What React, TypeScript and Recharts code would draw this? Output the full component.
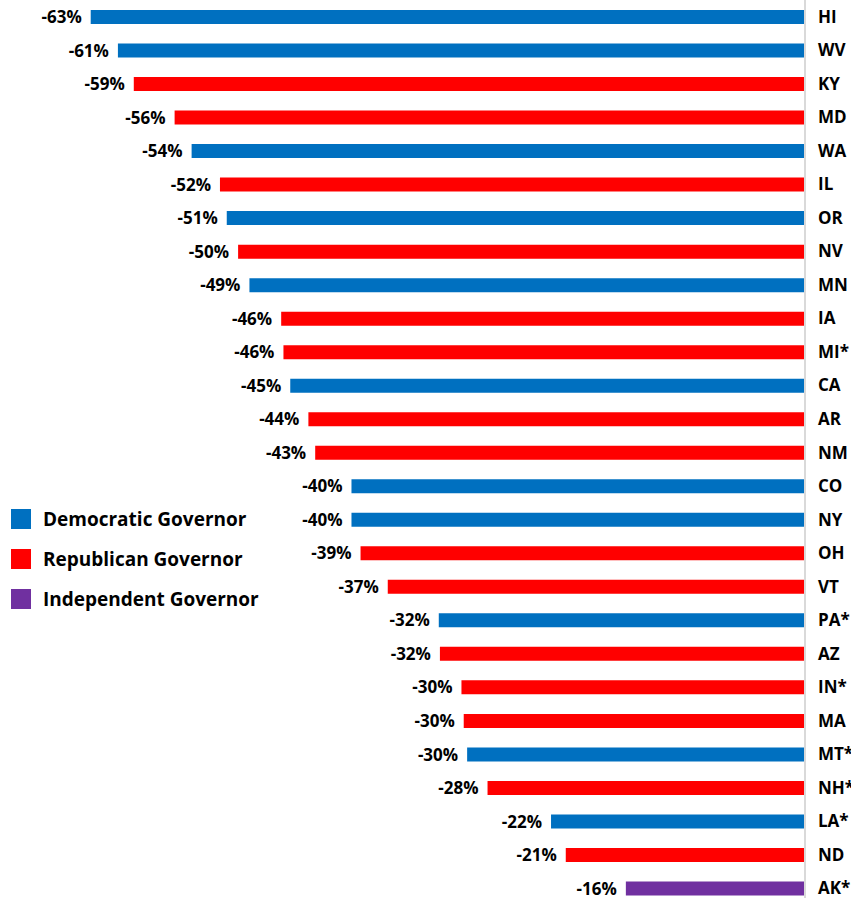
import { BarChart, Bar, XAxis, YAxis, Cell, LabelList, Legend } from 'recharts'

const states = ['HI', 'WV', 'KY', 'MD', 'WA', 'IL', 'OR', 'NV', 'MN', 'IA', 'MI*', 'CA', 'AR', 'NM', 'CO', 'NY', 'OH', 'VT', 'PA*', 'AZ', 'IN*', 'MA', 'MT*', 'NH*', 'LA*', 'ND', 'AK*']
const changes = [-63.0, -60.6, -59.2, -55.6, -54.1, -51.6, -51.0, -50.0, -49.0, -46.2, -46.0, -45.4, -43.8, -43.2, -40.0, -40.0, -39.2, -36.8, -32.3, -32.2, -30.3, -30.1, -29.8, -28.0, -22.4, -21.1, -15.8]
const parties = ['D', 'D', 'R', 'R', 'D', 'R', 'D', 'R', 'D', 'R', 'R', 'D', 'R', 'R', 'D', 'D', 'R', 'R', 'D', 'R', 'R', 'R', 'D', 'R', 'D', 'R', 'I']

const partyKeys = ['D', 'R', 'I']
const partyNames = ['Democratic Governor', 'Republican Governor', 'Independent Governor']
const partyColors: Record<string, string> = { D: '#0070C0', R: '#FF0000', I: '#7030A0' }

const data = states.map((s, i) => ({ state: s, change: changes[i], party: parties[i] }))

const FONT = '"Open Sans", Lato, sans-serif'

function ValueLabel(props: any) {
  const { x, y, width, height, value } = props
  const left = Math.min(x, x + width)
  return (
    <text x={left - 9} y={y + height / 2} dy="0.36em" textAnchor="end"
      fontFamily={FONT} fontWeight={700} fontSize={17} fill="#000">
      {Math.round(value)}%
    </text>
  )
}

function PartyLegend() {
  return (
    <div style={{ fontFamily: FONT, fontWeight: 700, fontSize: 19, color: '#000' }}>
      {partyKeys.map((k, i) => (
        <div key={k} style={{ display: 'flex', alignItems: 'center', height: 40 }}>
          <span style={{ width: 20, height: 20, background: partyColors[k], display: 'inline-block', marginRight: 12 }} />
          <span>{partyNames[i]}</span>
        </div>
      ))}
    </div>
  )
}

export default function App() {
  return (
    <div style={{ position: 'absolute', left: 0, top: 0, width: 851, height: 898, overflow: 'hidden', background: '#fff' }}>
      <BarChart layout="vertical" data={data} width={851} height={905}
        margin={{ top: 0, right: 0, bottom: 0, left: 0 }} barSize={14}>
        <XAxis type="number" domain={[-71, 0]} hide />
        <YAxis type="category" dataKey="state" orientation="right" width={46}
          axisLine={{ stroke: '#d9d9d9', strokeWidth: 2 }} tickLine={false} tickMargin={7}
          interval={0}
          tick={{ fontFamily: FONT, fontWeight: 700, fontSize: 17, fill: '#000', textAnchor: 'start' }} />
        <Legend layout="vertical" align="center" verticalAlign="middle" content={<PartyLegend />}
          wrapperStyle={{ left: 11, top: 499, width: 320 }} />
        <Bar dataKey="change" isAnimationActive={false}>
          {data.map((d, i) => <Cell key={i} fill={partyColors[d.party]} />)}
          <LabelList dataKey="change" content={<ValueLabel />} />
        </Bar>
      </BarChart>
    </div>
  )
}
